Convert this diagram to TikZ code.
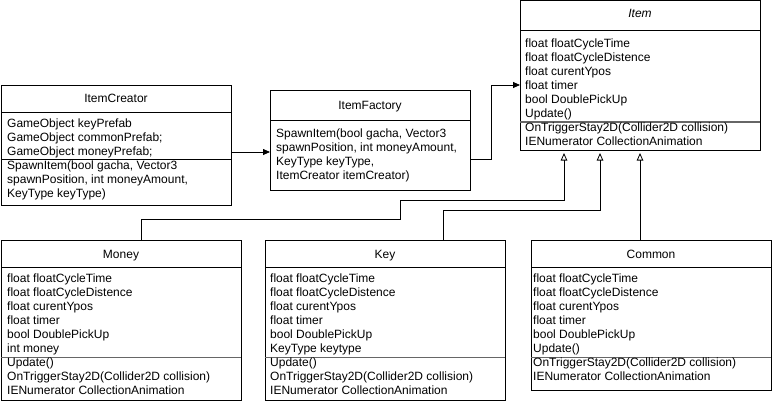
\documentclass[tikz,border=0pt]{standalone}
\usepackage{fontspec}
\setmainfont{Liberation Sans}
\usetikzlibrary{arrows.meta,positioning,calc}
\tikzset{
  classbox/.style={rectangle, draw=black, line width=0.8pt, inner sep=0pt,
                   outer sep=0pt, anchor=north west},
  classtitle/.style={inner sep=0pt, anchor=base},
  members/.style={inner sep=0pt, anchor=north west, align=left},
  divider/.style={line width=0.8pt, draw=black},
  softdivider/.style={line width=1.1pt, draw=gray!80!black},
  assoc/.style={line width=0.8pt, -{Triangle[length=7pt,width=6pt]}},
  inherit/.style={line width=0.8pt, -{Triangle[open,length=7.5pt,width=6.5pt]}}
}
\begin{document}
\begin{tikzpicture}[x=1pt, y=-1pt, font=\fontsize{12}{14}\selectfont]
\useasboundingbox (0,0) rectangle (773,404);
% creator and factory
\node[classbox, minimum width=230pt, minimum height=120pt] (creator) at (1,85) {};
\node[classtitle] (creatortitle) at ([yshift=-17pt]creator.north) {ItemCreator};
\draw[divider] ([yshift=-27pt]creator.north west) -- ([yshift=-27pt]creator.north east);
\draw[divider] ([yshift=-74pt]creator.north west) -- ([yshift=-74pt]creator.north east);
\node[members] (creatorattr) at ([xshift=6pt,yshift=-32.2pt]creator.north west)
  {\strut GameObject keyPrefab\\GameObject commonPrefab;\\GameObject moneyPrefab;\\
   SpawnItem(bool gacha, Vector3\\spawnPosition, int moneyAmount,\\KeyType keyType)};

\node[classbox, minimum width=200pt, minimum height=100pt] (factory) at (270,90) {};
\node[classtitle] (factorytitle) at ([yshift=-19pt]factory.north) {ItemFactory};
\draw[divider] ([yshift=-30pt]factory.north west) -- ([yshift=-30pt]factory.north east);
\node[members] (factoryops) at ([xshift=6pt,yshift=-37.2pt]factory.north west)
  {\strut SpawnItem(bool gacha, Vector3\\spawnPosition, int moneyAmount,\\KeyType keyType,\\
   ItemCreator itemCreator)};

% base class
\node[classbox, minimum width=240pt, minimum height=150pt] (item) at (520,0) {};
\node[classtitle, font=\fontsize{12}{14}\selectfont\itshape] (itemtitle)
  at ([yshift=-18pt]item.north) {Item};
\draw[divider] ([yshift=-30pt]item.north west) -- ([yshift=-30pt]item.north east);
\draw[softdivider] ([yshift=-122pt]item.north west) -- ([yshift=-122pt]item.north east);
\node[members] (itemattr) at ([xshift=5pt,yshift=-37.2pt]item.north west)
  {\strut float floatCycleTime\\float floatCycleDistence\\float curentYpos\\float timer\\
   bool DoublePickUp\\Update()\\OnTriggerStay2D(Collider2D collision)\\
   IENumerator CollectionAnimation};

% subclasses
\foreach \name/\title/\x/\h in {money/Money/1/160, key/Key/265/160, common/Common/531/150}{
  \node[classbox, minimum width=240pt, minimum height=\h pt] (\name) at (\x,240) {};
  \node[classtitle] (\name-title) at ([yshift=-18pt]\name.north) {\title};
  \draw[divider] ([yshift=-27pt]\name.north west) -- ([yshift=-27pt]\name.north east);
  \draw[softdivider] ([yshift=-117.5pt]\name.north west) -- ([yshift=-117.5pt]\name.north east);
}
\node[members] (moneyattr) at ([xshift=6pt,yshift=-32.2pt]money.north west)
  {\strut float floatCycleTime\\float floatCycleDistence\\float curentYpos\\float timer\\
   bool DoublePickUp\\int money\\Update()\\OnTriggerStay2D(Collider2D collision)\\
   IENumerator CollectionAnimation};
\node[members] (keyattr) at ([xshift=5pt,yshift=-32.2pt]key.north west)
  {\strut float floatCycleTime\\float floatCycleDistence\\float curentYpos\\float timer\\
   bool DoublePickUp\\KeyType keytype\\Update()\\OnTriggerStay2D(Collider2D collision)\\
   IENumerator CollectionAnimation};
\node[members] (commonattr) at ([xshift=2pt,yshift=-32.2pt]common.north west)
  {\strut float floatCycleTime\\float floatCycleDistence\\float curentYpos\\float timer\\
   bool DoublePickUp\\Update()\\OnTriggerStay2D(Collider2D collision)\\
   IENumerator CollectionAnimation};

% connectors
\draw[assoc] ([yshift=-7pt]creator.east) -- ([yshift=-7pt]creator.east -| factory.west);
\draw[assoc] ([yshift=-19pt]factory.east) -- ++(21,0) |- ([yshift=-10pt]item.west);
\draw[inherit] ([xshift=140pt]money.north west) -- ++(0,-21) -| ++(259,-19)
  -| ([xshift=44pt,yshift=-3pt]item.south west);
\draw[inherit] ([xshift=178pt]key.north west) -- ++(0,-30)
  -| ([xshift=80pt,yshift=-3pt]item.south west);
\draw[inherit] ([xshift=109pt]common.north west) -- ([xshift=120pt,yshift=-3pt]item.south west);
\end{tikzpicture}
\end{document}
